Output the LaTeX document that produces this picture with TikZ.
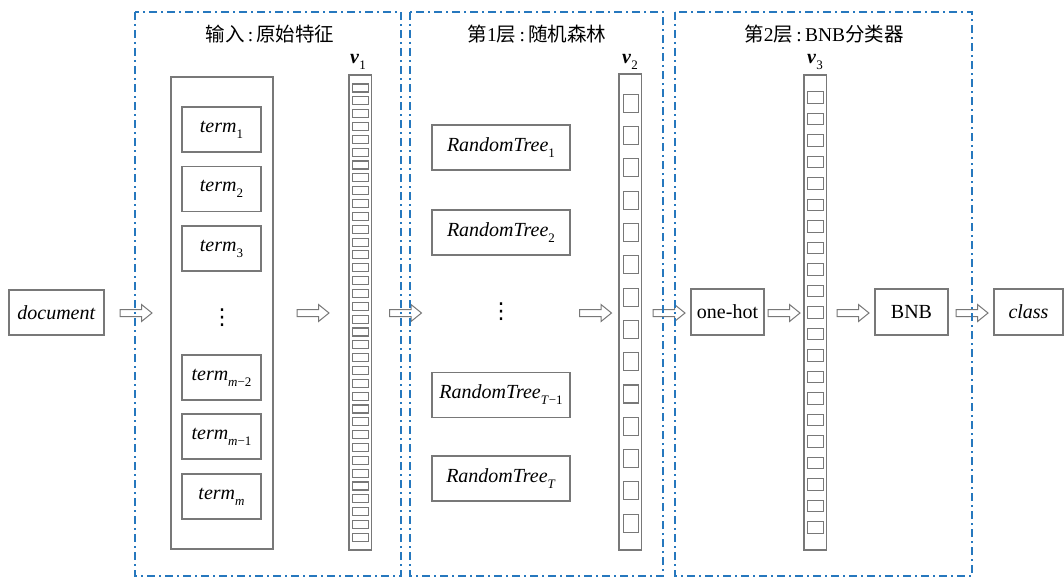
\documentclass[tikz,border=0pt]{standalone}
\usepackage{fontspec}
\setmainfont{Liberation Serif}
\newfontfamily\cjk{Noto Sans CJK SC}
\newfontfamily\symfont{DejaVu Sans}
\usetikzlibrary{calc}
\definecolor{boxgray}{RGB}{120,120,120}
\definecolor{dashblue}{RGB}{38,120,190}
\newcommand\mysb[1]{\raisebox{-0.3em}{\fontsize{13}{13}\selectfont #1}}
\tikzset{
  every node/.style={inner sep=0pt, outer sep=0pt},
  gbox/.style={draw=boxgray, line width=1.3pt, fill=white, minimum height=45pt, font=\fontsize{20}{20}\selectfont},
  vecbox/.style={draw=boxgray, line width=1.3pt, minimum width=22.5pt},
  stage/.style={draw=dashblue, line width=1.2pt, dash pattern=on 8pt off 4pt on 2pt off 4pt},
  cell/.style={draw=boxgray, line width=1.1pt},
  title/.style={font=\fontsize{19.5}{19.5}\selectfont},
  vlabel/.style={font=\fontsize{20}{20}\selectfont},
  vdotsty/.style={font=\symfont\fontsize{22}{22}\selectfont},
  hollow/.style={draw=boxgray, line width=1pt, fill=white, line join=miter},
  harrow/.pic={\path[hollow] (-16,-3.5) -- (5.5,-3.5) -- (5.5,-8.5) -- (16,0) -- (5.5,8.5) -- (5.5,3.5) -- (-16,3.5) -- cycle;}
}
\begin{document}
\begin{tikzpicture}[x=1pt,y=-1pt]
\useasboundingbox (0,0) rectangle (1064,578);

% input
\node[gbox, minimum width=95pt] (doc) at (56.5,312.5) {\textit{document}};
\node[draw=boxgray, line width=1.3pt, minimum width=102pt, minimum height=472pt] (terms) at (222,313) {};
\node[gbox, minimum width=79pt] (t1) at (221.5,129.5) {\textit{term}\mysb{1}};
\node[gbox, minimum width=79pt] (t2) at (221.5,189) {\textit{term}\mysb{2}};
\node[gbox, minimum width=79pt] (t3) at (221.5,248.5) {\textit{term}\mysb{3}};
\node[vdotsty] (tdots) at (222,318) {⋮};
\node[gbox, minimum width=79pt] (tm2) at (221.5,377.5) {\textit{term}\mysb{\textit{m}−2}};
\node[gbox, minimum width=79pt] (tm1) at (221.5,436.5) {\textit{term}\mysb{\textit{m}−1}};
\node[gbox, minimum width=79pt] (tm) at (221.5,496.5) {\textit{term}\mysb{\textit{m}}};

\node[vecbox, minimum height=475pt] (v1) at (360.2,312.5) {};
\foreach \i in {0,...,35} \draw[cell] (352.7,{84+\i*12.84}) rectangle ++(15.8,8);
\node[vlabel] (v1l) at (358,62) {\textbf{\textit{v}}\mysb{1}};

% layer 1
\node[gbox, minimum width=138pt] (r1) at (501,147.5) {\textit{RandomTree}\mysb{1}};
\node[gbox, minimum width=138pt] (r2) at (501,232.5) {\textit{RandomTree}\mysb{2}};
\node[vdotsty] (rdots) at (501,312) {⋮};
\node[gbox, minimum width=138pt] (rT1) at (501,395) {\textit{RandomTree}\mysb{\textit{T}−1}};
\node[gbox, minimum width=138pt] (rT) at (501,478.5) {\textit{RandomTree}\mysb{\textit{T}}};

\node[vecbox, minimum height=476pt] (v2) at (630.2,312) {};
\foreach \i in {0,...,13} \draw[cell] (623.3,{94.3+\i*32.3}) rectangle ++(15.4,18);
\node[vlabel] (v2l) at (630,62) {\textbf{\textit{v}}\mysb{2}};

% layer 2
\node[gbox, minimum width=73pt, minimum height=46pt] (onehot) at (727.5,312) {one-hot};
\node[vecbox, minimum height=475pt] (v3) at (815.2,312.5) {};
\foreach \i in {0,...,20} \draw[cell] (807.7,{91.7+\i*21.5}) rectangle ++(15.6,11.6);
\node[vlabel] (v3l) at (815,62) {\textbf{\textit{v}}\mysb{3}};
\node[gbox, minimum width=73pt, minimum height=46pt] (bnb) at (911.5,312) {BNB};
\node[gbox, minimum width=69pt, minimum height=46pt] (cls) at (1028.5,312) {\textit{class}};

% hollow arrows
\foreach \x in {136,313,405.5,595.5,669,784,853,972}
  \pic at (\x,313) {harrow};

% stage frames
\draw[stage] (135,12) rectangle (401,576);
\draw[stage] (410,12) rectangle (663,576);
\draw[stage] (675,12) rectangle (972,576);

\node[title] (ttl1) at (270,34) {{\cjk 输入}\,:\,{\cjk 原始特征}};
\node[title] (ttl2) at (537,34) {{\cjk 第}1{\cjk 层}\,:\,{\cjk 随机森林}};
\node[title] (ttl3) at (824,34) {{\cjk 第}2{\cjk 层}\,:\,BNB{\cjk 分类器}};
\end{tikzpicture}
\end{document}
